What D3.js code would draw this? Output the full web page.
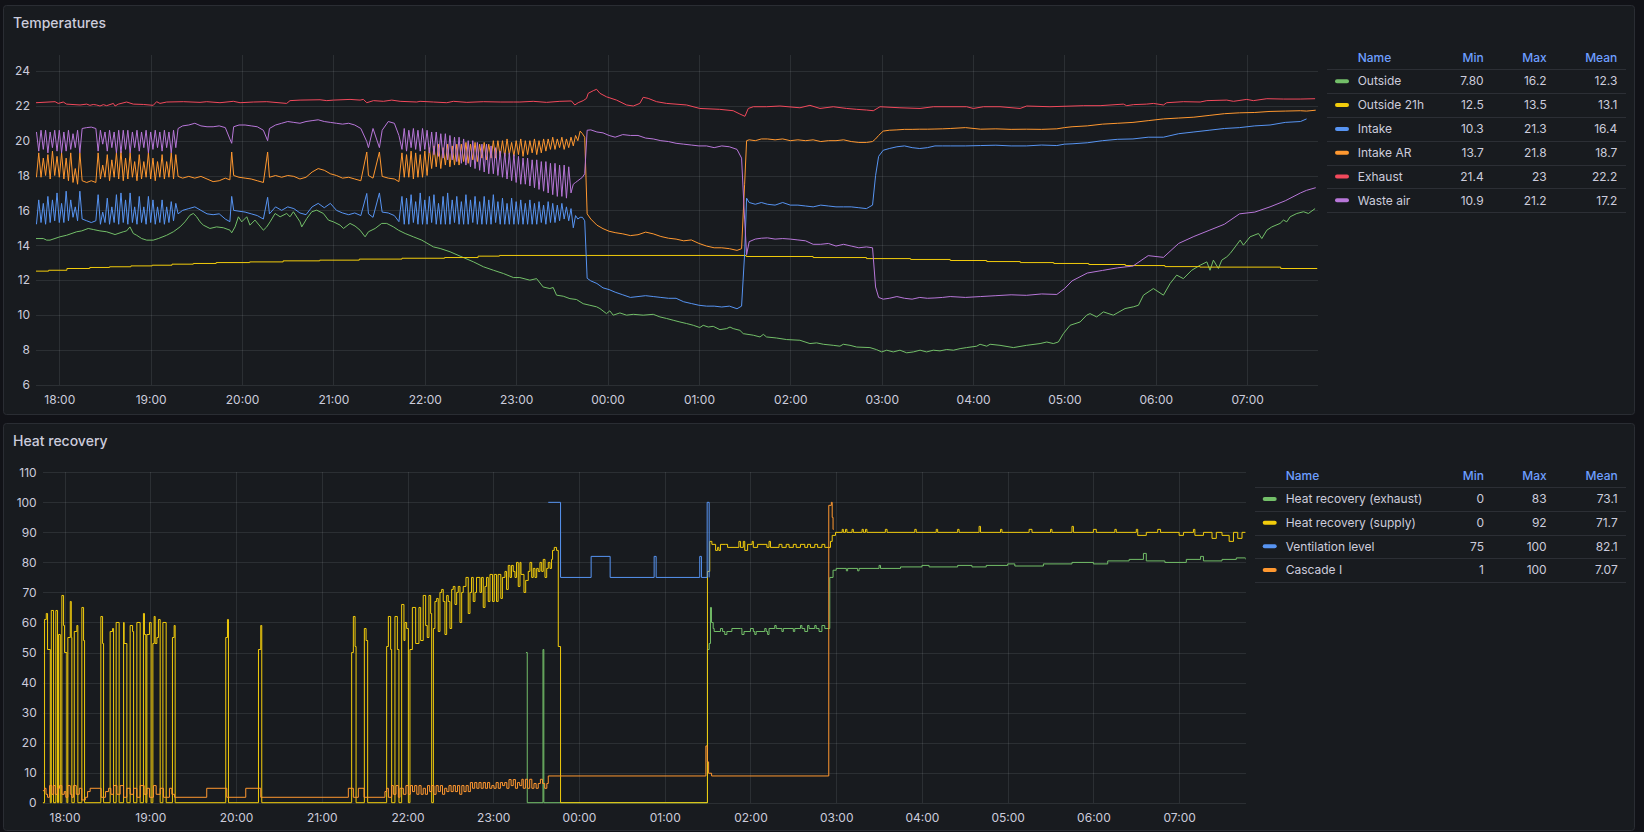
<!DOCTYPE html>
<html lang="en">
<head>
<meta charset="utf-8">
<title>Temperatures / Heat recovery</title>
<style>
  body { margin: 0; background: #111217; }
  svg { display: block; font-family: Inter, "Noto Sans", sans-serif; }
  .panel { fill: #181b1f; stroke: #2a2d33; }
  .title { fill: #ccccdc; font-size: 14px; font-weight: 500; }
  .grid line { stroke: rgba(240, 250, 255, 0.09); shape-rendering: crispEdges; }
  .grid path, .axis path { display: none; }
  .axis text { fill: #ccccdc; font-size: 12px; font-family: Inter, sans-serif; }
  .legend-head { fill: #6e9fff; font-size: 12px; font-weight: 500; }
  .legend-text { fill: #ccccdc; font-size: 12px; }
  .legend-rule { stroke: #2c2f35; shape-rendering: crispEdges; }
  .series { fill: none; stroke-width: 1; }
</style>
</head>
<body>
<script src="https://cdn.jsdelivr.net/npm/d3@7"></script>
<script>
// ---- time: minutes after 17:45 ----
var base = new Date(2024, 0, 1, 17, 45);
var tStart = -0.3, tEnd = 841.5;

// ---- Temperatures ----
var tempTicks = [6, 8, 10, 12, 14, 16, 18, 20, 22, 24];
var tempNames = ["Outside", "Outside 21h", "Intake", "Intake AR", "Exhaust", "Waste air"];
var tempColors = ["#73bf69", "#f2cc0c", "#5794f2", "#ff9830", "#f2495c", "#b877d9"];
var tempMin = ["7.80", "12.5", "10.3", "13.7", "21.4", "10.9"];
var tempMax = ["16.2", "13.5", "21.3", "21.8", "23", "21.2"];
var tempMean = ["12.3", "13.1", "16.4", "18.7", "22.2", "17.2"];

var outside = [
  [-0.3,14.38],[4.5,14.38],[6.7,14.29],[8.9,14.29],[15.4,14.48],[19.8,14.57],[26.4,14.77],[29.7,14.82],[34,14.96],[37.3,14.9],
  [41.7,14.82],[46.1,14.77],[51.6,14.61],[57,14.77],[59.2,14.82],[61.4,15.05],[63.6,14.67],[65.8,14.57],[69.1,14.38],[72.4,14.29],
  [76.7,14.29],[80,14.38],[85.5,14.57],[89.9,14.77],[94.3,15.05],[97.5,15.34],[100.8,15.72],[103,15.82],[105.2,15.63],[107.4,15.34],
  [109.6,15.15],[113.9,14.96],[118.3,15.05],[122.7,15.0],[127.1,14.86],[128.2,14.71],[130.4,15.05],[132.6,15.63],[134.8,15.34],[138.1,15.63],
  [140.2,15.15],[143.5,15.44],[149,14.86],[151.2,15.05],[153.4,15.34],[156.7,15.82],[160,15.63],[164.3,15.82],[166.5,15.63],[168.7,15.92],
  [173.1,15.34],[174.2,15.05],[177.5,15.53],[180.8,15.92],[184,16.01],[188.4,15.82],[191.7,15.44],[195,15.34],[199.4,15.15],[201.6,14.96],
  [205.9,15.25],[209.2,15.1],[212.5,14.86],[215.8,14.48],[218,14.77],[222.4,14.96],[226.7,15.25],[230,15.25],[234.4,15.05],[237.7,14.86],
  [242.1,14.67],[247.5,14.48],[253,14.29],[260.7,13.9],[265.1,13.81],[271.6,13.62],[278.2,13.37],[287,13.04],[293.5,12.76],[300.1,12.56],
  [306.7,12.37],[313.2,12.14],[317.4,12.14],[324,11.99],[328.4,12.08],[332.7,11.6],[337.1,11.51],[339.3,11.57],[341.5,11.13],[345.9,11.07],
  [350.3,10.93],[354.6,10.88],[359,10.64],[363.4,10.55],[367.8,10.46],[370,10.36],[374.3,10.07],[376.5,10.23],[378.7,9.98],[383.1,10.11],
  [387.5,9.98],[391.9,10.03],[398.4,9.98],[405,10.03],[409.4,9.88],[413.8,9.79],[418.1,9.69],[422.5,9.59],[426.9,9.5],[431.3,9.4],
  [435.6,9.27],[437.8,9.4],[441.1,9.3],[444.4,9.34],[448.8,9.15],[453.2,9.21],[455.4,9.3],[457.5,9.21],[461.9,9.11],[464.1,8.92],
  [470.7,8.83],[475.1,8.73],[477.3,8.88],[479.4,8.73],[486,8.67],[492.6,8.58],[501.3,8.54],[507.9,8.35],[512.3,8.39],[516.7,8.31],
  [523.2,8.25],[527.6,8.2],[529.8,8.31],[534.2,8.25],[538.6,8.15],[547.3,8.12],[551.7,8.0],[555,7.87],[558.3,7.97],[562.6,7.87],
  [567,7.97],[571.4,7.82],[575.8,7.87],[580.2,7.97],[584.5,7.87],[588.9,7.97],[593.3,7.93],[597.7,8.01],[602.1,7.97],[606.5,8.06],
  [610.8,8.12],[617.4,8.2],[619.6,8.31],[624,8.2],[626.2,8.31],[632.7,8.25],
  [641.5,8.12],[650.2,8.25],[659,8.35],[663.4,8.44],[667.7,8.35],[671,8.44],[674.3,8.92],[678.7,9.4],[685.3,9.59],[689.6,9.98],
  [691.8,10.07],[696.2,9.88],[700.6,10.17],[707.1,9.98],[714.8,10.36],[720.3,10.46],[723.6,10.55],[726.9,11.13],[733.4,11.51],[740,11.13],
  [744.4,11.8],[748.7,12.28],[753.1,12.08],[758.6,12.56],[764.1,12.85],[768.5,13.04],[770.6,12.56],[772.8,13.14],[776.1,12.66],[778.3,13.14],
  [781.6,13.33],[783.8,13.52],[787.1,13.9],[790.4,14.29],[792.5,14.0],[796.9,14.48],[802.4,14.67],[804.6,14.38],[807.9,14.86],[811.2,15.05],
  [816.6,15.25],[818.8,15.44],[821,15.34],[823.2,15.63],[827.6,15.82],[832,15.92],[835.2,15.82],[839.6,16.1]
];

var outside21h = [
  [-0.3,12.51],[8,12.56],[20,12.66],[35,12.72],[48,12.76],[62,12.81],[76,12.85],[89,12.91],[103,12.95],[118,13.0],
  [140,13.04],[162,13.1],[186,13.14],[212,13.2],[240,13.25],[268,13.29],[290,13.37],[304,13.41],[466,13.35],[510,13.29],
  [545,13.23],[574,13.18],[600,13.12],[624,13.06],[646,13.0],[668,12.95],[691,12.89],[715,12.83],[741,12.77],[764,12.74],
  [817,12.66],[841,12.66]
];

var exhaust = [
  [-0.3,22.18],[12.2,22.24],[14.3,22.14],[17.6,22.22],[19.8,22.1],[28.6,22.05],[33,22.1],[35.1,22.03],[37.3,22.08],[39.5,22.05],
  [41.7,21.99],[43.9,22.07],[46.1,22.01],[50.5,22.14],[51.6,21.99],[53.8,22.1],[59.2,22.22],[63.6,22.1],[70.2,22.08],[76.7,22.03],
  [78.9,22.24],[81.1,22.14],[85.5,22.22],[96.5,22.24],[107.4,22.2],[111.8,22.24],[120.5,22.18],[129.3,22.26],[133.7,22.18],[142.4,22.22],
  [151.2,22.24],[164.3,22.14],[166.5,22.3],[173.1,22.33],[186.2,22.35],[190.6,22.3],[195,22.33],[205.9,22.37],[212.5,22.33],[214.7,22.37],
  [216.9,22.18],[221.3,22.3],[227.8,22.26],[233.3,22.33],[238.8,22.26],[249.7,22.22],[251.9,22.26],[260.7,22.22],[269.4,22.18],[273.8,22.26],
  [282.6,22.2],[293.5,22.24],[304.5,22.22],[313.2,22.22],[317.4,22.22],[326.2,22.26],[334.9,22.2],[343.7,22.26],[351.3,22.28],[353.5,22.05],
  [355.7,22.18],[359,22.3],[361.2,22.43],[362.3,22.72],[365.6,22.87],[367.8,22.95],[370,22.72],[374.3,22.52],[380.9,22.33],[387.5,22.05],
  [391.9,21.99],[396.2,22.14],[398.4,22.49],[401.7,22.43],[407.2,22.24],[413.8,22.14],[426.9,22.05],[435.6,21.85],[448.6,21.8],[457.5,21.72],
  [461.9,21.53],[465.2,21.4],[467.4,21.85],[470.7,21.95],[479.4,21.95],[488.2,21.99],[501.3,21.89],[507.9,22.03],[514.5,21.85],[523.2,21.95],
  [532,21.85],[538.6,21.8],[545.1,21.76],[549.5,21.72],[553.9,21.95],[567,21.89],[580.2,21.85],[588.9,21.95],[610.8,21.95],[615.2,21.85],
  [621.8,21.95],[632.7,21.95],[645.9,21.85],[650.2,21.99],[665.5,21.95],[687.4,22.01],[698.4,22.01],[713.7,22.1],[715.9,22.01],[720.3,22.07],
  [729,22.1],[733.4,22.14],[740,22.05],[742.2,22.18],[753.1,22.24],[764.1,22.22],[768.5,22.3],[781.6,22.33],[786,22.26],[794.7,22.37],
  [799.1,22.3],[807.9,22.41],[818.8,22.39],[829.8,22.39],[839.6,22.41]
];

// Intake, Intake AR and Waste air share one sample clock
var airTimes = [
  0,1.5,3,4.5,6,7.5,9,10.5,12,13.5,15,16.5,18,19.5,21,22.5,24,25.5,27,28.5,
  30,33,36,39,
  40.5,42,43.5,45,46.5,48,49.5,51,52.5,54,55.5,57,58.5,60,61.5,63,64.5,66,67.5,69,70.5,72,73.5,75,76.5,78,79.5,81,82.5,84,85.5,87,88.5,90,91.5,
  93,96,100,104,108,112,116,120,124,127,128.2,129.5,133,137,141,145,149,151.8,153,157,161,165,169,173,177,181,185,189,193,197,201,205,209,213,216.9,218,221,225.2,227,231,235,238,
  240,241.5,243,244.5,246,247.5,249,250.5,252,253.5,255,256.5,258,259.5,261,262.5,264,265.5,267,268.5,
  270,271.5,273,274.5,276,277.5,279,280.5,282,283.5,285,286.5,288,289.5,291,292.5,294,295.5,297,298.5,
  300,301.5,303,304.5,306,307.5,309,310.5,312,313.5,315,316.5,318,319.5,321,322.5,324,325.5,327,328.5,
  330,331.5,333,334.5,336,337.5,339,340.5,342,343.5,345,346.5,348,349.5,351,352.5,354,355.5,357,
  358.5,360,361.6,364,368,372,376,380,385,390,395,400,405,410,415,420,425,430,435,440,445,450,455,460,463,465,466.3,468,472,476,480,485,490,495,500,505,510,515,520,525,530,535,540,545,549,551,553,556,560,565,570,575,580,585,590,595,600,610,620,630,640,650,660,670,675,680,690,700,710,720,730,740,750,760,770,780,790,800,810,820,830,834,840
];

var intake = [
  15.2,16.6,15.3,16.4,15.2,16.8,15.3,16.6,15.4,17.0,15.3,16.4,15.3,17.1,15.4,16.6,15.6,16.2,15.4,17.1,
  15.5,15.4,15.3,15.4,
  16.9,15.2,15.9,15.3,16.7,15.2,16.2,15.3,16.9,15.2,17.0,15.3,16.6,15.2,17.0,15.3,16.2,15.2,16.8,15.3,16.2,15.2,16.8,15.3,16.6,15.2,16.2,15.3,16.6,15.2,16.2,15.3,16.5,15.4,16.4,
  15.8,16.0,16.1,16.2,16.0,15.8,15.75,15.8,15.5,15.35,16.8,16.0,15.95,15.9,15.8,15.7,15.5,16.75,15.8,16.2,16.0,16.2,16.1,15.85,15.75,16.2,16.4,16.15,16.4,16.0,15.85,15.75,15.85,15.7,16.97,15.8,15.6,17.0,15.9,15.85,15.7,15.35,
  16.8,15.2,16.7,15.2,16.9,15.3,16.5,15.2,17.0,15.2,16.6,15.2,
  16.8,15.3,16.9,15.2,16.4,15.2,16.8,15.2,17.0,15.2,16.6,15.3,16.8,15.2,
  16.5,15.2,16.9,15.2,16.6,15.3,16.8,15.2,16.5,15.2,16.8,15.2,16.6,15.2,16.9,15.3,
  16.5,15.2,16.7,15.2,16.4,15.2,16.7,15.2,16.5,15.2,16.6,15.2,16.4,15.2,16.6,15.2,16.4,15.2,16.5,15.3,16.3,15.2,
  16.5,15.3,16.4,15.3,16.3,15.4,16.4,15.5,16.2,15.4,16.1,15.0,15.7,15.5,
  15.6,
  15.6,15.4,12.1,11.95,11.8,11.55,11.45,11.3,11.15,11.0,11.05,11.1,11.05,11.0,10.95,10.95,10.75,10.65,10.55,10.5,10.5,10.45,10.5,10.35,10.5,13.5,16.7,16.45,16.35,16.45,16.35,16.3,16.45,16.3,16.3,16.25,16.2,16.3,16.25,16.2,16.2,16.2,16.15,16.1,16.3,18.0,19.1,19.45,19.55,19.65,19.7,19.6,19.55,19.6,19.7,19.7,19.7,19.7,19.72,19.74,19.7,19.7,19.75,19.72,19.8,19.82,19.88,20.0,20.08,20.1,20.2,20.2,20.4,20.5,20.6,20.7,20.75,20.85,20.9,21.05,21.1,21.25,null
];

var intakeAR = [
  17.9,19.3,17.9,19.0,18.0,19.2,17.8,19.4,18.0,19.1,17.9,19.3,17.8,19.0,17.7,19.3,17.6,18.4,17.5,19.3,
  17.7,17.6,17.7,17.6,
  19.3,17.8,18.6,17.9,19.2,17.7,18.9,17.9,19.3,17.8,19.4,17.7,19.0,17.8,19.3,17.9,18.8,17.7,19.2,17.8,18.8,17.9,19.3,17.8,19.0,17.7,18.8,17.9,19.2,17.8,18.8,17.9,19.3,17.8,19.2,
  17.95,17.85,17.95,17.85,17.95,17.8,17.65,17.7,17.85,17.75,19.35,18.0,17.9,17.85,17.8,17.7,17.6,19.35,17.9,18.0,17.9,18.0,17.95,17.8,17.9,18.2,18.4,18.3,18.1,18.0,17.85,17.9,17.8,17.7,19.35,18.0,17.85,19.35,17.95,17.85,17.8,17.65,
  19.3,17.9,19.2,17.9,19.4,17.8,19.3,17.9,19.2,17.9,19.4,18.0,
  19.6,18.4,19.7,18.5,19.8,18.4,19.6,18.6,19.8,18.5,19.7,18.6,19.8,18.6,
  19.8,18.8,19.9,18.7,19.8,18.9,19.9,18.8,19.8,19.0,19.9,18.9,19.8,19.0,20.0,19.0,
  20.0,19.1,20.0,19.1,20.1,19.2,19.9,19.1,20.0,19.2,20.1,19.1,20.0,19.2,20.0,19.3,20.1,19.2,20.0,19.3,20.1,19.4,
  20.1,19.5,20.2,19.5,20.1,19.6,20.2,19.5,20.1,19.6,20.2,19.7,20.3,20.0,
  20.55,
  20.4,20.2,15.8,15.5,15.15,14.95,14.8,14.72,14.65,14.55,14.6,14.75,14.65,14.5,14.4,14.35,14.25,14.3,14.1,13.95,13.85,13.85,13.8,13.7,13.8,17.5,20.0,20.05,20.0,20.1,20.1,20.05,20.1,20.0,20.05,20.0,20.05,19.95,20.0,20.0,20.05,19.95,19.9,19.9,19.95,20.1,20.3,20.55,20.6,20.62,20.65,20.65,20.66,20.66,20.67,20.68,20.7,20.75,20.66,20.68,20.65,20.66,20.65,20.68,20.75,20.8,20.85,20.95,21.0,21.05,21.15,21.25,21.3,21.35,21.45,21.55,21.6,21.62,21.68,21.7,21.72,21.7,21.75
];

var wasteAir = [
  20.5,19.4,20.6,19.5,20.6,19.3,20.5,19.6,20.6,19.4,20.6,19.3,20.5,19.4,20.6,19.5,20.4,19.6,20.6,19.3,
  20.7,20.75,20.78,20.7,
  19.4,20.6,19.8,20.5,19.4,20.6,19.6,20.5,19.3,20.6,19.3,20.6,19.5,20.6,19.3,20.5,19.6,20.6,19.4,20.5,19.6,20.6,19.3,20.5,19.5,20.6,19.6,20.5,19.4,20.6,19.6,20.5,19.3,20.6,19.6,
  20.7,20.85,20.9,21.0,20.85,20.8,20.8,20.85,20.75,20.1,19.85,20.8,20.9,20.9,20.85,20.8,20.6,20.0,20.7,20.9,21.0,21.1,21.05,21.0,21.1,21.15,21.2,21.1,21.05,21.0,20.95,21.0,20.9,20.7,19.95,19.6,20.7,19.6,20.6,21.1,21.0,20.3,
  19.5,20.7,19.4,20.6,19.6,20.7,19.5,20.6,19.4,20.7,19.5,20.6,
  19.3,20.5,19.2,20.5,19.1,20.4,19.0,20.4,18.9,20.3,18.9,20.2,18.8,20.2,
  18.7,20.1,18.6,20.0,18.5,20.0,18.4,19.9,18.3,19.8,18.2,19.8,18.1,19.7,18.1,19.6,
  18.0,19.4,17.9,19.3,17.8,19.3,17.7,19.2,17.6,19.1,17.5,19.0,17.5,19.0,17.4,18.9,17.3,18.9,17.2,18.8,17.1,18.8,
  17.0,18.7,16.9,18.7,16.8,18.6,16.8,18.6,16.7,18.5,17.0,17.5,17.6,17.7,
  17.8,
  17.9,18.1,20.6,20.62,20.5,20.45,20.3,20.2,20.35,20.3,20.3,20.15,20.1,20.0,19.95,19.85,19.8,19.75,19.7,19.7,19.6,19.7,19.65,19.5,19.0,15.5,13.45,14.2,14.35,14.4,14.42,14.35,14.38,14.35,14.3,14.25,14.05,14.05,14.1,13.95,14.05,13.95,13.85,13.9,13.85,11.6,11.0,10.9,10.95,11.05,10.95,10.9,11.0,10.95,10.97,11.0,11.05,11.0,11.05,11.1,11.15,11.12,11.2,11.17,11.5,11.95,12.4,12.55,12.7,12.8,13.4,13.3,14.1,14.5,14.85,15.2,15.8,15.9,16.2,16.55,17.0,17.15,17.3
];

// ---- Heat recovery (step values, each holds until the next time) ----
var heatTicks = [0, 10, 20, 30, 40, 50, 60, 70, 80, 90, 100, 110];
var heatNames = ["Heat recovery (exhaust)", "Heat recovery (supply)", "Ventilation level", "Cascade I"];
var heatColors = ["#73bf69", "#f2cc0c", "#5794f2", "#ff9830"];
var heatMin = ["0", "0", "75", "1"];
var heatMax = ["83", "92", "100", "100"];
var heatMean = ["73.1", "71.7", "82.1", "7.07"];

var recoveryExhaust = [
  [337.9,50],[338.8,0],[349.8,51],[350.4,0],[464.9,51],[466.1,53],[467.0,65],[467.7,60],[468.9,58],[469.6,57],
  [474,58],[475.5,57],[477,56],[478.5,57],[482,58],[488,58],[489,56],[490.5,57],[495,58],[497,57],
  [498,56],[499,57],[505,58],[506,57],[507,56],[508,58],[512,59],[513,58],[517,57],[518,58],
  [525,57],[526,58],[530,59],[531,58],[533,57],[535,59],[536,58],[540,59],[541,58],[543,57],
  [545,59],[547,58],[550.5,75],[552.8,77.4],[555,78],[562.1,77.2],[563,78],[570,77.2],[571,78],[585,79],
  [586,78],[600,78.5],[615,79],[620,78.5],[640,79],[650,78.5],[660,79],[675,79.5],[680,78.8],[700,79.5],
  [720,80],[735,79.5],[745,80.5],[760,81],[770,83],[772,80.5],[785,80],[800,81],[810,82],[812,80.5],
  [825,81],[835,81.5],[841.5,81]
];

var recoverySupply = [
  [-0.3,0],[1.0,61],[2.2,63],[3.1,51],[5.0,0],[5.7,64],[7.3,0],[8.9,64],[10.1,0],[10.8,56],
  [12.0,0],[13.1,69],[14.3,59],[15.0,50],[16.6,0],[17.3,55],[19.0,67],[19.7,55],[20.1,0],[21.8,57],
  [23.6,59],[24.3,0],[27.1,65],[28.3,54],[29.0,0],[40.4,62],[41.6,53],[42.3,0],[46.9,57],[48.6,58],
  [49.3,0],[51.1,60],[53.2,0],[56.3,60],[56.7,53],[58.6,0],[60.9,59],[62.6,57],[63.3,0],[65.6,60],
  [67.9,0],[70.2,63],[70.9,56],[71.9,0],[72.6,56],[74.4,60],[75.6,0],[76.8,53],[77.7,62],[78.4,53],
  [79.6,55],[80.7,61],[81.9,0],[83.8,60],[86.1,0],[90.5,55],[91.7,59],[92.4,0],[127.8,55],[129.0,61],
  [129.7,0],[150.7,51],[152.3,59],[153.0,0],[215.9,50],[217.1,62],[218.3,52],[219.0,0],[224.8,58],[226.0,54],
  [227.1,0],[240.4,52],[241.6,62],[243.2,51],[243.9,0],[246.2,62],[247.9,51],[249.0,0],[250.9,66],[252.5,54],
  [253.2,60],[254.4,58],[255.6,0],[256.7,51],[258.4,65],[260.7,53],[263.0,65],[264.2,54],[266.0,69],[267.7,59],
  [268.8,55],[270.0,69],[271.2,63],[271.9,0],[273.1,58],[274.2,67],[275.4,68],[276.5,57],[277.7,70],[278.9,71],
  [280.0,67],[281.2,56],[282.4,69],[283.5,67],[284.7,58],[285.9,71],[287.0,72],[288.2,66],[289.4,70],[290.5,72],
  [291.7,60],[292.9,70],[294.0,72],[295.9,75],[297.5,63],[298.7,70],[299.8,75],[301.0,67],[302.2,70],[303.3,75],
  [305.7,70],[306.8,75],[308.0,65],[309.2,72],[310.3,75],[311.5,67],[312.7,76],[314.5,67],[315.7,76],[317.3,67],
  [318.4,76],[320.3,68],[321.4,75],[323.2,77],[324.3,71],[325.5,79],[326.7,75],[327.8,79],[329.0,77],[330.2,75],
  [331.3,80],[332.5,72],[333.7,80],[334.4,76],[336.5,70],[337.7,74],[339.5,77],[340.7,80],[341.9,75],[343.0,78],
  [344.2,75],[345.4,78],[346.5,77],[347.7,80],[348.9,77],[350.0,81],[351.2,75],[352.4,78],[353.5,80],[354.7,78],
  [355.8,81],[356.5,84],[357.7,85],[359.3,84],[360.5,52],[362.1,0],[464.9,77],[466.5,87],[468,86],[470.6,84],
  [472,85],[472.9,84],[474,86],[477.6,86],[479,85],[486.9,87],[488,85],[490,87],[491,84],[493,86],
  [496.2,87],[497,85],[500,86],[506.5,85],[508,87],[509,85],[515,86],[517,85],[520,86],[522,85],
  [525,86],[527,85],[530,86],[533,85],[535,86],[537,85],[540,86],[542,85],[545,86],[547,85],
  [551,87],[552.2,89],[554.5,90],[559.2,91],[560,90],[561.5,91],[562.5,90],[566.1,91],[567,90],[573.1,91],
  [574,90],[575.5,91],[576.5,90],[589.4,91],[590.6,90],[610,91],[611,90],[625,91],[626,90],[640,91],
  [641,90],[655,92],[656,90],[670,91],[671,90],[690,91],[692,90],[705,91],[706,90],[720,92],
  [721,90],[735,91],[737,90],[750,91],[751,90],[765,91],[766,89],[772,90],[780,91],[782,90],
  [795,89],[798,90],[805,91],[806,89],[812,90],[818,88],[821,90],[825,89],[830,87],[833,90],
  [836,88],[839,90],[841.5,90]
];

var ventilationLevel = [
  [353.5,100],[362.1,75],[383.5,82],[396.8,75],[427.6,82],[429,75],[459.5,82],[460.7,75],[464.7,100],[466.1,75]
];

var cascade = [
  [-0.3,4.0],[1.0,4.8],[2.0,2.8],[3.1,1.8],[4.5,5.7],[6.1,2.8],[7.3,5.7],[8.5,2.8],[10.1,4.8],[11.5,5.7],
  [13.1,2.8],[14.8,3.7],[15.9,1.8],[17.3,5.7],[19.0,2.8],[20.1,1.8],[21.3,5.7],[23.2,2.8],[25.3,4.8],[27.1,0.9],
  [29.5,1.8],[31.1,3.7],[32.9,4.8],[40.6,1.8],[43.7,3.7],[45.8,4.8],[47.4,2.8],[49.3,5.7],[51.6,2.8],[53.9,5.7],
  [56.3,1.8],[58.6,4.8],[60.9,2.8],[63.3,4.8],[65.6,1.8],[67.9,5.7],[70.7,2.8],[72.6,4.8],[74.4,1.8],[77.2,5.7],
  [79.1,2.8],[81.9,4.8],[84.2,1.8],[88.4,4.8],[90.1,2.8],[92,1.8],[114.5,4.8],[128.5,1.8],[141.8,4.8],[152.3,1.8],
  [213.6,4.8],[217.1,1.8],[220.6,4.8],[224.6,1.8],[239.2,3.7],[240.4,4.8],[241.6,1.8],[243.9,5.7],[245.1,2.8],[246.9,5.7],
  [248.6,1.8],[249.7,4.8],[252.1,2.8],[253.9,5.7],[255.6,2.8],[257,5.7],[258.5,3.7],[260,5.7],[261.5,2.8],[263,5.7],
  [264.5,2.8],[266,4.8],[267.5,2.8],[269,5.7],[270.5,3.7],[272,5.7],[273.5,2.8],[275,5.7],[276.5,3.7],[278,5.7],
  [279.5,2.8],[281,4.8],[282.5,3.7],[284,5.7],[285.5,3.7],[287,5.7],[288.5,3.7],[290,5.7],[291.5,2.8],[293,5.7],
  [294.5,3.7],[296,5.7],[297.5,3.7],[299,6.7],[300.5,4.8],[302,6.7],[303.5,4.8],[305,6.7],[306.5,4.8],[308,6.7],
  [309.5,4.8],[311,6.7],[312.5,4.8],[314,5.7],[315.5,4.8],[317,6.7],[318.5,4.8],[320,6.7],[321.5,5.7],[323,6.7],
  [324.5,4.8],[326,7.7],[327.5,5.7],[329,7.7],[330.5,4.8],[332,6.7],[333.5,5.7],[335,7.8],[336,4.8],[337.5,7.8],
  [339,4.8],[340.5,7.8],[342,4.8],[343.5,6.4],[345,4.8],[346.5,6.4],[348,7.8],[349.5,6.4],[351,4.8],[352.5,6.4],
  [353.5,8.9],[463.8,18.9],[464.8,13.6],[465.7,9.8],[467.8,8.9],[549.8,99],[551.6,100],[552.2,95],[552.8,91],[553.2,91]
];

[intake, intakeAR, wasteAir].forEach(function(a) {
  if (a.length !== airTimes.length) throw new Error("series length " + a.length + " != " + airTimes.length);
});

function at(t) { return new Date(base.getTime() + t * 60000); }
function pairs(arr) { return arr.map(function(p) { return { t: p[0], v: p[1] }; }); }
function onClock(vals) { return airTimes.map(function(t, i) { return { t: t, v: vals[i] }; }); }

var svg = d3.select("body").append("svg").attr("width", 1644).attr("height", 832);

function panel(y0, h, title) {
  svg.append("rect").attr("class", "panel")
    .attr("x", 3.5).attr("y", y0 + 0.5).attr("width", 1631).attr("height", h).attr("rx", 3);
  svg.append("text").attr("class", "title")
    .attr("x", 13).attr("y", y0 + 18).attr("dy", "0.35em").text(title);
}

function chart(cfg) {
  var x = d3.scaleTime().domain([at(tStart), at(tEnd)]).range([cfg.left, cfg.right]);
  var y = d3.scaleLinear().domain(cfg.yDomain).range([cfg.bottom, cfg.top]);
  var hours = d3.timeHour.every(1);

  svg.append("g").attr("class", "grid")
    .attr("transform", "translate(" + cfg.left + ",0)")
    .call(d3.axisLeft(y).tickValues(cfg.yTicks).tickSize(-(cfg.right - cfg.left)).tickFormat(""));
  svg.append("g").attr("class", "grid")
    .attr("transform", "translate(0," + cfg.bottom + ")")
    .call(d3.axisBottom(x).ticks(hours).tickSize(cfg.bottom - cfg.top).tickFormat(""))
    .selectAll("line").attr("y2", -(cfg.bottom - cfg.top));

  var yAxis = svg.append("g").attr("class", "axis")
    .attr("transform", "translate(" + cfg.left + ",0)")
    .call(d3.axisLeft(y).tickValues(cfg.yTicks).tickSize(0).tickPadding(6));
  yAxis.selectAll("line").remove();

  var xAxis = svg.append("g").attr("class", "axis")
    .attr("transform", "translate(0," + cfg.bottom + ")")
    .call(d3.axisBottom(x).ticks(hours).tickFormat(d3.timeFormat("%H:%M")).tickSize(0));
  xAxis.selectAll("line").remove();
  xAxis.selectAll("text").attr("y", cfg.labelOffset).attr("dy", "0.35em");

  var clipId = "clip" + cfg.id;
  svg.append("clipPath").attr("id", clipId).append("rect")
    .attr("x", cfg.left).attr("y", cfg.top - 2).attr("width", cfg.right - cfg.left).attr("height", cfg.bottom - cfg.top + 4);

  var plot = svg.append("g").attr("clip-path", "url(#" + clipId + ")");
  cfg.series.forEach(function(s) {
    var line = d3.line()
      .defined(function(d) { return d.v !== null; })
      .x(function(d) { return x(at(d.t)); })
      .y(function(d) { return y(d.v); })
      .curve(s.step ? d3.curveStepAfter : d3.curveLinear);
    plot.append("path").attr("class", "series")
      .attr("stroke", s.color)
      .attr("d", line(s.data));
  });
}

function legend(cfg) {
  var g = svg.append("g");
  g.append("text").attr("class", "legend-head").attr("x", cfg.nameX).attr("y", cfg.headY).attr("dy", "0.35em").text("Name");
  [["Min", cfg.minX], ["Max", cfg.maxX], ["Mean", cfg.meanX]].forEach(function(h) {
    g.append("text").attr("class", "legend-head").attr("x", h[1]).attr("y", cfg.headY)
      .attr("dy", "0.35em").attr("text-anchor", "end").text(h[0]);
  });
  for (var i = 0; i <= cfg.names.length; i++) {
    var ry = Math.round(cfg.ruleY + i * cfg.rowH) + 0.5;
    g.append("line").attr("class", "legend-rule")
      .attr("x1", cfg.ruleX1).attr("x2", cfg.ruleX2).attr("y1", ry).attr("y2", ry);
  }
  cfg.names.forEach(function(name, i) {
    var cy = cfg.ruleY + (i + 0.5) * cfg.rowH;
    g.append("rect").attr("x", cfg.swatchX).attr("y", cy - 2).attr("width", 14).attr("height", 4)
      .attr("rx", 2).attr("fill", cfg.colors[i]);
    g.append("text").attr("class", "legend-text").attr("x", cfg.nameX).attr("y", cy).attr("dy", "0.35em").text(name);
    [[cfg.mins[i], cfg.minX], [cfg.maxs[i], cfg.maxX], [cfg.means[i], cfg.meanX]].forEach(function(c) {
      g.append("text").attr("class", "legend-text").attr("x", c[1]).attr("y", cy)
        .attr("dy", "0.35em").attr("text-anchor", "end").text(c[0]);
    });
  });
}

// ---- top panel ----
panel(5, 409, "Temperatures");
chart({
  id: "temp", left: 36, right: 1318, top: 55, bottom: 384.5, labelOffset: 15.5,
  yDomain: [6, 24.92], yTicks: tempTicks,
  series: [
    { color: tempColors[0], data: pairs(outside) },
    { color: tempColors[1], data: pairs(outside21h), step: true },
    { color: tempColors[2], data: onClock(intake) },
    { color: tempColors[3], data: onClock(intakeAR) },
    { color: tempColors[4], data: pairs(exhaust) },
    { color: tempColors[5], data: onClock(wasteAir) }
  ]
});
legend({
  names: tempNames, colors: tempColors, mins: tempMin, maxs: tempMax, means: tempMean,
  headY: 57.7, ruleY: 69.3, rowH: 23.83, ruleX1: 1327, ruleX2: 1626,
  swatchX: 1335, nameX: 1357.7, minX: 1483.7, maxX: 1546.7, meanX: 1617.3
});

// ---- bottom panel ----
panel(423, 407, "Heat recovery");
chart({
  id: "heat", left: 42.7, right: 1245.6, top: 472.3, bottom: 802.7, labelOffset: 15,
  yDomain: [0, 110], yTicks: heatTicks,
  series: [
    { color: heatColors[0], data: pairs(recoveryExhaust), step: true },
    { color: heatColors[1], data: pairs(recoverySupply), step: true },
    { color: heatColors[2], data: pairs(ventilationLevel), step: true },
    { color: heatColors[3], data: pairs(cascade), step: true }
  ]
});
legend({
  names: heatNames, colors: heatColors, mins: heatMin, maxs: heatMax, means: heatMean,
  headY: 475.7, ruleY: 487.3, rowH: 23.6, ruleX1: 1255, ruleX2: 1626,
  swatchX: 1262.7, nameX: 1285.7, minX: 1484, maxX: 1546.7, meanX: 1617.7
});
</script>
</body>
</html>
